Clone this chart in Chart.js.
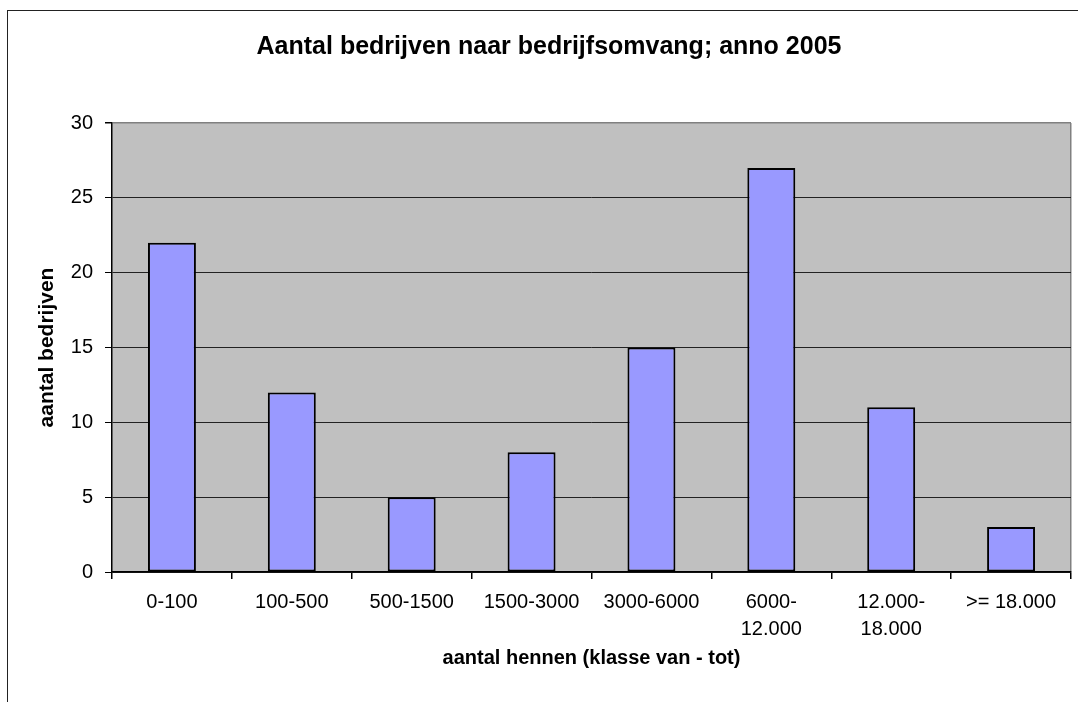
<!DOCTYPE html>
<html>
<head>
<meta charset="utf-8">
<script src="https://cdn.jsdelivr.net/npm/chart.js@4.4.1/dist/chart.umd.min.js"></script>
<style>
  html, body { margin: 0; padding: 0; background: #fff; overflow: hidden; }
  #wrap { position: relative; width: 1078px; height: 702px; overflow: hidden; }
  #frame { position: absolute; left: 7px; top: 10px; width: 1200px; height: 900px; border: 1.5px solid #222; box-sizing: border-box; }
  canvas { position: absolute; left: 0; top: 0; }
</style>
</head>
<body>
<div id="wrap">
  <div id="frame"></div>
  <canvas id="c" width="1078" height="702"></canvas>
</div>
<script>
const categories = ["0-100", "100-500", "500-1500", "1500-3000", "3000-6000", ["6000-", "12.000"], ["12.000-", "18.000"], ">= 18.000"];
const bedrijven = [22, 12, 5, 8, 15, 27, 11, 3];
const yTicks = { min: 0, max: 30, step: 5 };
const chartTitle = "Aantal bedrijven naar bedrijfsomvang; anno 2005";
const xTitle = "aantal hennen (klasse van - tot)";
const yTitle = "aantal bedrijven";

const plotBg = {
  id: 'plotBg',
  beforeDraw(chart) {
    const { ctx, chartArea: a } = chart;
    ctx.save();
    ctx.fillStyle = '#C0C0C0';
    ctx.fillRect(a.left, a.top, a.right - a.left, a.bottom - a.top);
    ctx.restore();
  }
};

Chart.defaults.font.family = '"Liberation Sans", Arial, sans-serif';
Chart.defaults.color = '#000';

new Chart(document.getElementById('c'), {
  type: 'bar',
  data: {
    labels: categories,
    datasets: [{
      data: bedrijven,
      backgroundColor: '#9999FF',
      borderColor: '#000',
      borderWidth: 2,
      borderSkipped: false,
      barPercentage: 0.4,
      categoryPercentage: 1.0
    }]
  },
  options: {
    responsive: false,
    animation: false,
    devicePixelRatio: 1,
    layout: { padding: { left: 27, right: 7, top: 0, bottom: 0 }, autoPadding: false },
    plugins: {
      legend: { display: false },
      tooltip: { enabled: false },
      title: {
        display: true,
        text: chartTitle,
        font: { size: 25, weight: 'bold' },
        lineHeight: 1.2,
        padding: { top: 32, bottom: 61 },
        color: '#000'
      }
    },
    scales: {
      x: {
        offset: true,
        afterFit(scale) { scale.height = 130; },
        grid: {
          offset: true,
          drawOnChartArea: true,
          drawTicks: true,
          tickLength: 7,
          color: (ctx) => (ctx.type === 'scale' ? '#808080' : 'rgba(0,0,0,0)'),
          tickColor: '#000',
          lineWidth: 1.5
        },
        border: { display: true, color: '#000', width: 1.5 },
        ticks: {
          font: { size: 20, lineHeight: 1.35 },
          padding: 10,
          maxRotation: 0,
          autoSkip: false,
          color: '#000'
        },
        title: {
          display: true,
          text: xTitle,
          font: { size: 20, weight: 'bold' },
          padding: { top: 32, bottom: 32 },
          color: '#000'
        }
      },
      y: {
        min: yTicks.min,
        max: yTicks.max,
        afterFit(scale) { scale.width = 85; },
        grid: {
          drawTicks: true,
          tickLength: 7,
          color: (ctx) => (ctx.tick && ctx.tick.value === yTicks.max ? '#808080' : '#222'),
          tickColor: '#000',
          lineWidth: (ctx) => (ctx.tick && ctx.tick.value === yTicks.max ? 1.5 : 1)
        },
        border: { display: true, color: '#000', width: 1.5 },
        ticks: {
          stepSize: yTicks.step,
          font: { size: 20 },
          padding: 12,
          color: '#000'
        },
        title: {
          display: true,
          text: yTitle,
          font: { size: 21, weight: 'bold' },
          padding: { top: 8, bottom: 8 },
          color: '#000'
        }
      }
    }
  },
  plugins: [plotBg]
});
</script>
</body>
</html>
